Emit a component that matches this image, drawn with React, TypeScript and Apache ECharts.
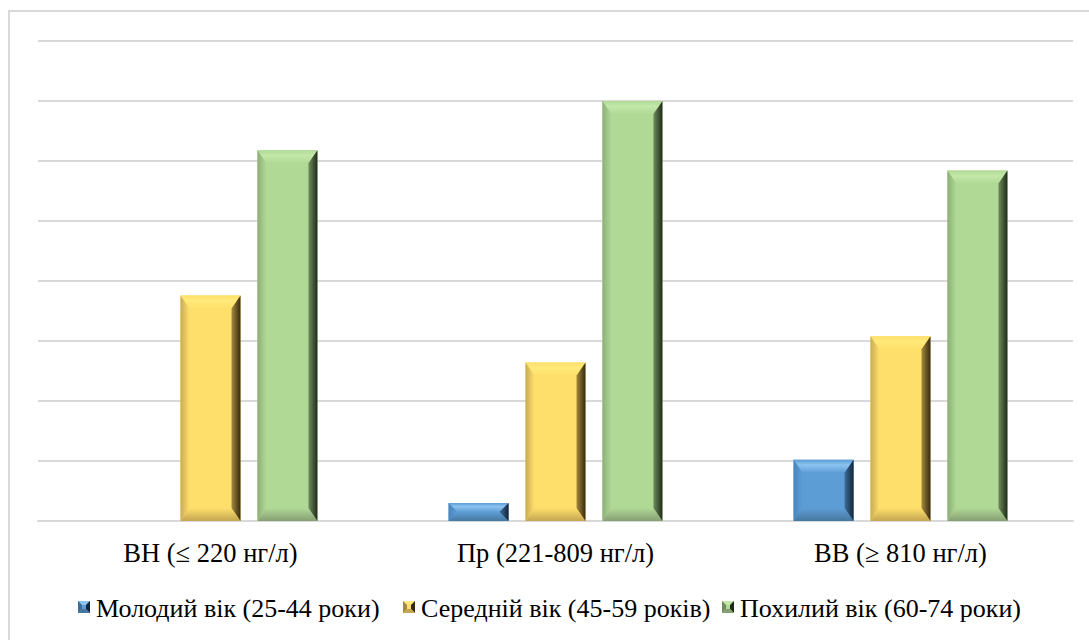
import React, { useEffect, useRef } from "react";
import * as echarts from "echarts";

const categories = ["ВН (≤ 220 нг/л)", "Пр (221-809 нг/л)", "ВВ (≥ 810 нг/л)"];
const seriesNames = [
  "Молодий вік (25-44 роки)",
  "Середній вік (45-59 років)",
  "Похилий вік (60-74 роки)",
];
const youngValues = [0, 1.5, 5.1];
const middleValues = [18.8, 13.2, 15.4];
const oldValues = [30.9, 35.0, 29.2];
const allValues = [youngValues, middleValues, oldValues];

const palettes = [
  { face: "#5d9dd6", top: "#8cc3f0", bottom: "#46789f", left: "#4a85bb", rightA: "#3f6d98", rightB: "#15253a" },
  { face: "#ffdf6b", top: "#ffea7a", bottom: "#c4a552", left: "#c9aa55", rightA: "#a58a3d", rightB: "#35290f" },
  { face: "#b0d996", top: "#c4e8aa", bottom: "#869f72", left: "#8dae78", rightA: "#6f8c5d", rightB: "#1f2b19" },
];

const FONT = "Liberation Serif";
const AXIS_FS = 26.5;
const LEGEND_FS = 26;
const legendIconX = [78, 403, 722];

function makeRender(s: number) {
  const p = palettes[s];
  return (params: any, api: any) => {
    const cat = api.value(0);
    const val = api.value(1);
    if (!val) return { type: "group", children: [] };
    const top = api.coord([cat, val]);
    const base = api.coord([cat, 0]);
    const bw = api.size([1, 0])[0];
    const barW = bw * 0.174;
    const step = bw * 0.223;
    const cx = top[0] + (s - 1) * step;
    const x0 = cx - barW / 2;
    const x1 = cx + barW / 2;
    const y0 = top[1];
    const y1 = base[1];
    const h = y1 - y0;
    const b = Math.min(13, h / 2);
    const bs = Math.min(9, barW / 2);
    return {
      type: "group",
      children: [
        { type: "rect", shape: { x: x0, y: y0, width: barW, height: h }, style: { fill: p.face } },
        {
          type: "polygon",
          shape: { points: [[x0, y0], [x1, y0], [x1 - bs, y0 + b], [x0 + bs, y0 + b]] },
          style: {
            fill: new echarts.graphic.LinearGradient(0, 0, 0, 1, [
              { offset: 0, color: p.face },
              { offset: 0.4, color: p.top },
              { offset: 1, color: p.face },
            ]),
          },
        },
        {
          type: "polygon",
          shape: { points: [[x0, y1], [x1, y1], [x1 - bs, y1 - b], [x0 + bs, y1 - b]] },
          style: {
            fill: new echarts.graphic.LinearGradient(0, 0, 0, 1, [
              { offset: 0, color: p.face },
              { offset: 1, color: p.bottom },
            ]),
          },
        },
        {
          type: "polygon",
          shape: { points: [[x0, y0], [x0 + bs, y0 + b], [x0 + bs, y1 - b], [x0, y1]] },
          style: {
            fill: new echarts.graphic.LinearGradient(0, 0, 1, 0, [
              { offset: 0, color: p.left },
              { offset: 1, color: p.face },
            ]),
          },
        },
        {
          type: "polygon",
          shape: { points: [[x1, y0], [x1 - bs, y0 + b], [x1 - bs, y1 - b], [x1, y1]] },
          style: {
            fill: new echarts.graphic.LinearGradient(0, 0, 1, 0, [
              { offset: 0, color: p.rightA },
              { offset: 1, color: p.rightB },
            ]),
          },
        },
      ],
    };
  };
}

function legendIcon(x: number, y: number, s: number) {
  const p = palettes[s];
  const w = 12;
  const i = 4;
  return {
    type: "group",
    children: [
      { type: "rect", shape: { x, y, width: w, height: w }, style: { fill: p.face } },
      { type: "polygon", shape: { points: [[x, y], [x + w, y], [x + w - i, y + i], [x + i, y + i]] }, style: { fill: p.top } },
      { type: "polygon", shape: { points: [[x, y], [x + i, y + i], [x + i, y + w - i], [x, y + w]] }, style: { fill: p.rightA } },
      { type: "polygon", shape: { points: [[x + w, y], [x + w - i, y + i], [x + w - i, y + w - i], [x + w, y + w]] }, style: { fill: p.rightB } },
      { type: "polygon", shape: { points: [[x, y + w], [x + w, y + w], [x + w - i, y + w - i], [x + i, y + w - i]] }, style: { fill: p.bottom } },
    ],
  };
}

export default function App() {
  const ref = useRef<HTMLDivElement>(null);
  useEffect(() => {
    const chart = echarts.init(ref.current!, null, { renderer: "svg" });
    chart.setOption({
      animation: false,
      backgroundColor: "#ffffff",
      grid: { left: 38, right: 16, top: 41, bottom: 119 },
      legend: { show: false, data: seriesNames },
      xAxis: {
        type: "category",
        data: categories,
        axisLine: { show: true, lineStyle: { color: "#d9d9d9", width: 2 } },
        axisTick: { show: false },
        axisLabel: { show: false },
      },
      yAxis: {
        type: "value",
        min: 0,
        max: 40,
        interval: 5,
        axisLabel: { show: false },
        axisLine: { show: false },
        axisTick: { show: false },
        splitLine: { lineStyle: { color: "#d9d9d9", width: 2 } },
      },
      series: seriesNames.map((name, s) => ({
        name,
        type: "custom",
        renderItem: makeRender(s),
        itemStyle: { color: palettes[s].face },
        encode: { x: 0, y: 1 },
        data: allValues[s].map((v, i) => [i, v]),
        z: 3,
      })),
    });

    const graphics: any[] = [
      {
        type: "rect",
        shape: { x: 9, y: 11, width: 1200, height: 800 },
        style: { fill: "none", stroke: "#d9d9d9", lineWidth: 2 },
        silent: true,
        z: -1,
      },
    ];
    categories.forEach((c, i) => {
      const pt = chart.convertToPixel({ gridIndex: 0 }, [i, 0]) as number[];
      graphics.push({
        type: "text",
        x: pt[0],
        y: pt[1] + 32,
        style: {
          text: c,
          fontFamily: FONT,
          fontSize: AXIS_FS,
          fill: "#000",
          textAlign: "center",
          textVerticalAlign: "middle",
        },
      });
    });
    seriesNames.forEach((n, s) => {
      const x = legendIconX[s];
      graphics.push(legendIcon(x, 601, s));
      graphics.push({
        type: "text",
        x: x + 18,
        y: 608,
        style: {
          text: n,
          fontFamily: FONT,
          fontSize: LEGEND_FS,
          fill: "#000",
          textAlign: "left",
          textVerticalAlign: "middle",
        },
      });
    });
    chart.setOption({ graphic: graphics });
    return () => chart.dispose();
  }, []);
  return (
    <div
      ref={ref}
      style={{ position: "fixed", left: 0, top: 0, width: 1089, height: 640 }}
    />
  );
}
